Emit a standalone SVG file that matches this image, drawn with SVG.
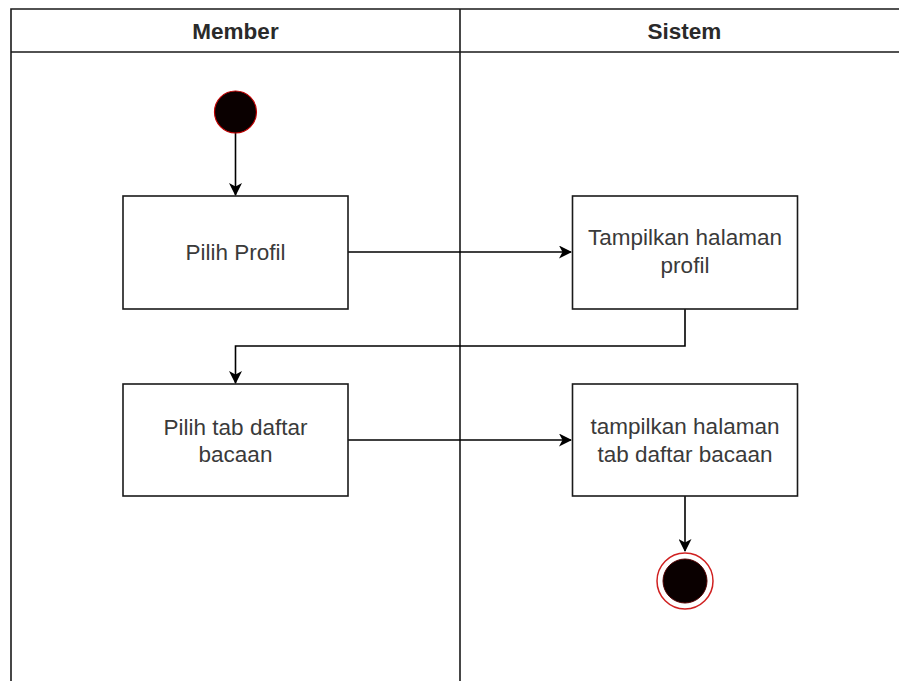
<svg xmlns="http://www.w3.org/2000/svg" width="899" height="681" viewBox="0 0 899 681">
<style>
.lane{fill:none;stroke:#1a1a1a;stroke-width:1.6}
.box{fill:#fff;stroke:#1a1a1a;stroke-width:1.6}
.hdr{font-family:"Liberation Sans",Arial,sans-serif;font-size:22.5px;font-weight:bold;fill:#2a2a2a;text-anchor:middle}
.lbl{font-family:"Liberation Sans",Arial,sans-serif;font-size:22.5px;fill:#3a3a3a;text-anchor:middle}
.edge{fill:none;stroke:#000;stroke-width:1.6}
</style>
<defs>
<marker id="arr" viewBox="0 0 13 13" refX="12" refY="6.5" markerWidth="13" markerHeight="13" markerUnits="userSpaceOnUse" orient="auto">
<path d="M0,0 L13,6.5 L0,13 L3.5,6.5 Z" fill="#000"/>
</marker>
</defs>
<rect width="899" height="681" fill="#fff"/>
<g id="lanes">
<path class="lane" d="M11,681 V9 H899 M11,52 H899 M460,9 V681"/>
<text class="hdr" x="235.5" y="39">Member</text>
<text class="hdr" x="684.5" y="39">Sistem</text>
</g>
<g id="connectors">
<path class="edge" d="M235.5,133 V195" marker-end="url(#arr)"/>
<path class="edge" d="M348,252 H571" marker-end="url(#arr)"/>
<path class="edge" d="M685,309 V346 H235.5 V383" marker-end="url(#arr)"/>
<path class="edge" d="M348,440 H571" marker-end="url(#arr)"/>
<path class="edge" d="M685,496 V551" marker-end="url(#arr)"/>
</g>
<g id="start">
<circle cx="235.5" cy="112" r="21" fill="#0a0000" stroke="#c00000" stroke-width="1.2"/>
</g>
<g id="pilih-profil">
<rect class="box" x="123" y="196" width="225" height="113"/>
<text class="lbl" x="235.5" y="260">Pilih Profil</text>
</g>
<g id="tampilkan-profil">
<rect class="box" x="572.5" y="196" width="225" height="113"/>
<text class="lbl" x="685" y="245">Tampilkan halaman</text>
<text class="lbl" x="685" y="273">profil</text>
</g>
<g id="pilih-tab">
<rect class="box" x="123" y="384" width="225" height="112"/>
<text class="lbl" x="235.5" y="435">Pilih tab daftar</text>
<text class="lbl" x="235.5" y="462">bacaan</text>
</g>
<g id="tampilkan-tab">
<rect class="box" x="572.5" y="384" width="225" height="112"/>
<text class="lbl" x="685" y="434">tampilkan halaman</text>
<text class="lbl" x="685" y="462">tab daftar bacaan</text>
</g>
<g id="end">
<circle cx="685" cy="581" r="28" fill="#fff" stroke="#d02020" stroke-width="1.5"/>
<circle cx="685" cy="581" r="22" fill="#0a0000" stroke="#500000" stroke-width="1"/>
</g>
</svg>
